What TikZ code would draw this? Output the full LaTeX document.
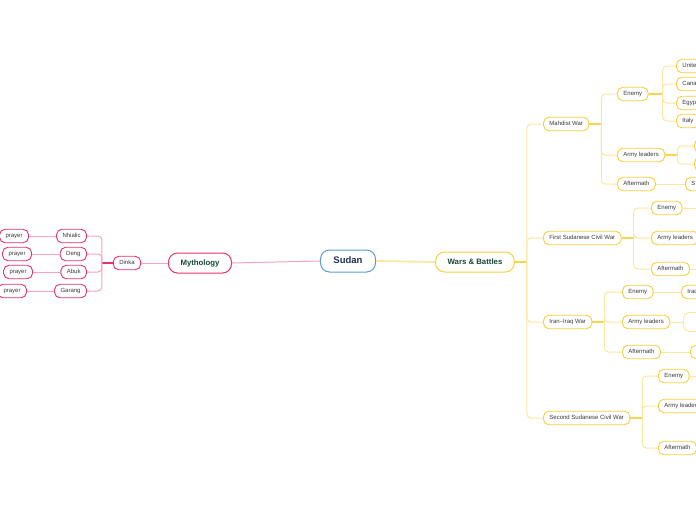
\documentclass[tikz,border=0pt]{standalone}
\usepackage{fontspec}
\setmainfont{Liberation Sans}
\definecolor{ybord}{HTML}{F7CF3E}
\definecolor{ylight}{HTML}{FCE7A0}
\definecolor{ystemc}{HTML}{F8D54E}
\definecolor{pbord}{HTML}{E2336E}
\definecolor{plight}{HTML}{F4A3C0}
\definecolor{bbord}{HTML}{5A9BD8}
\definecolor{txt}{HTML}{3A3A3A}
\definecolor{dgreen}{HTML}{17463A}
\definecolor{navy}{HTML}{1D2F5C}
\begin{document}
\begin{tikzpicture}[x=1pt,y=-1pt,
  ybox/.style={draw=ybord, line width=0.9pt, rounded corners=5.5pt, fill=white,
    font=\fontsize{6}{7}\selectfont, text=txt, minimum height=13.5pt, inner xsep=6pt, inner ysep=0pt,
    text height=4.4pt, text depth=1.2pt},
  pbox/.style={ybox, draw=pbord},
  mainbox/.style={draw=ybord, line width=1pt, rounded corners=9pt, fill=white,
    font=\fontsize{7.8}{9}\selectfont\bfseries, text=dgreen, minimum height=20pt, inner xsep=12pt, inner ysep=0pt,
    text height=5.8pt, text depth=1.6pt},
  ylink/.style={draw=ylight, line width=1pt, rounded corners=4pt},
  ystem/.style={draw=ystemc, line width=1.5pt},
  plink/.style={draw=plight, line width=1pt, rounded corners=4pt},
  pstem/.style={draw=pbord, line width=1.2pt}
]
\useasboundingbox (0,0) rectangle (696,520);
\clip (0,0) rectangle (696,520);

% central
\node[mainbox, draw=bbord, text=navy, font=\fontsize{9.5}{11}\selectfont\bfseries, minimum height=22pt, inner xsep=13pt, text height=7pt, text depth=2pt] (sudan) at (348,261) {Sudan};
\node[mainbox, draw=pbord] (myth) at (200,263) {Mythology};
\node[mainbox] (wars) at (475,262) {Wars \& Battles};

\draw[draw=ylight, line width=1.8pt] (sudan.east) -- (wars.west);
\draw[draw=plight, line width=1pt] (sudan.west) -- (myth.east);

% mythology side
\node[pbox] (dinka) at (127,263) {Dinka};
\draw[draw=plight, line width=1pt] (myth.west) -- (dinka.east);
\node[pbox, anchor=east] (nhialic) at (87,236) {Nhialic};
\node[pbox, anchor=east] (deng) at (87,254) {Deng};
\node[pbox, anchor=east] (abuk) at (87,272) {Abuk};
\node[pbox, anchor=east] (garang) at (87,291) {Garang};
\node[pbox, anchor=east] (pr1) at (29,236) {prayer};
\node[pbox, anchor=east] (pr2) at (32,254) {prayer};
\node[pbox, anchor=east] (pr3) at (33,272) {prayer};
\node[pbox, anchor=east] (pr4) at (27,291) {prayer};
\draw[pstem] (dinka.west) -- ++(-11,0) coordinate (db);
\foreach \c in {nhialic,deng,abuk,garang} \draw[plink] (db) |- (\c.east);
\draw[plink] (nhialic.west) -- (pr1.east);
\draw[plink] (deng.west) -- (pr2.east);
\draw[plink] (abuk.west) -- (pr3.east);
\draw[plink] (garang.west) -- (pr4.east);

% wars side: level 1
\node[ybox, anchor=west] (mw) at (543,124) {Mahdist War};
\node[ybox, anchor=west] (fs) at (543,238) {First Sudanese Civil War};
\node[ybox, anchor=west] (ii) at (543,322) {Iran–Iraq War};
\node[ybox, anchor=west] (ss) at (543,418) {Second Sudanese Civil War};
\draw[ystem] (wars.east) -- ++(12,0) coordinate (wb);
\foreach \c in {mw,fs,ii,ss} \draw[ylink] (wb) |- (\c.west);

% Mahdist War
\node[ybox, anchor=west] (mwen) at (617,94) {Enemy};
\node[ybox, anchor=west] (mwal) at (617,155) {Army leaders};
\node[ybox, anchor=west] (mwaf) at (617,184) {Aftermath};
\draw[ystem] (mw.east) -- ++(12,0) coordinate (mwb);
\foreach \c in {mwen,mwal,mwaf} \draw[ylink] (mwb) |- (\c.west);
\node[ybox, anchor=west] (uk) at (676,66) {United Kingdom};
\node[ybox, anchor=west] (ca) at (676,84) {Canada};
\node[ybox, anchor=west] (eg) at (676,103) {Egypt};
\node[ybox, anchor=west] (it) at (676,121) {Italy};
\draw[ystem] (mwen.east) -- ++(14,0) coordinate (mwenb);
\foreach \c in {uk,ca,eg,it} \draw[ylink] (mwenb) |- (\c.west);
\node[ybox, anchor=west, minimum width=30pt] (al1) at (694,146) {};
\node[ybox, anchor=west, minimum width=30pt] (al2) at (694,164) {};
\draw[ystem] (mwal.east) -- ++(12,0) coordinate (mwalb);
\foreach \c in {al1,al2} \draw[ylink] (mwalb) |- (\c.west);
\node[ybox, anchor=west] (mwaf1) at (685,184) {S};
\draw[ylink] (mwaf.east) -- (mwaf1.west);

% First Sudanese Civil War
\node[ybox, anchor=west] (fsen) at (651,208) {Enemy};
\node[ybox, anchor=west] (fsal) at (651,238) {Army leaders};
\node[ybox, anchor=west] (fsaf) at (651,269) {Aftermath};
\draw[ystem] (fs.east) -- ++(12,0) coordinate (fsb);
\foreach \c in {fsen,fsal,fsaf} \draw[ylink] (fsb) |- (\c.west);
\coordinate (fsenx) at (700,208);
\coordinate (fsafx) at (700,269);
\draw[ylink] (fsen.east) -- (fsenx);
\draw[ylink] (fsaf.east) -- (fsafx);

% Iran-Iraq War
\node[ybox, anchor=west] (iien) at (622,292) {Enemy};
\node[ybox, anchor=west] (iial) at (622,322) {Army leaders};
\node[ybox, anchor=west] (iiaf) at (622,352) {Aftermath};
\draw[ystem] (ii.east) -- ++(12,0) coordinate (iib);
\foreach \c in {iien,iial,iiaf} \draw[ylink] (iib) |- (\c.west);
\node[ybox, anchor=west] (iraq) at (681,292) {Iraq};
\draw[ylink] (iien.east) -- (iraq.west);
\node[ybox, anchor=west, draw=ylight, minimum height=19pt, minimum width=30pt] (iial1) at (683,322) {};
\draw[ylink] (iial.east) -- (iial1.west);
\node[ybox, anchor=west, minimum width=20pt] (iiaf1) at (690,352) {};
\draw[ylink] (iiaf.east) -- (iiaf1.west);

% Second Sudanese Civil War
\node[ybox, anchor=west] (ssen) at (658,376) {Enemy};
\node[ybox, anchor=west] (ssal) at (658,406) {Army leaders};
\node[ybox, anchor=west] (ssaf) at (658,448) {Aftermath};
\draw[ystem] (ss.east) -- ++(12,0) coordinate (ssb);
\foreach \c in {ssen,ssal,ssaf} \draw[ylink] (ssb) |- (\c.west);
\coordinate (ssenx) at (700,376);
\draw[ylink] (ssen.east) -- (ssenx);
\end{tikzpicture}
\end{document}
